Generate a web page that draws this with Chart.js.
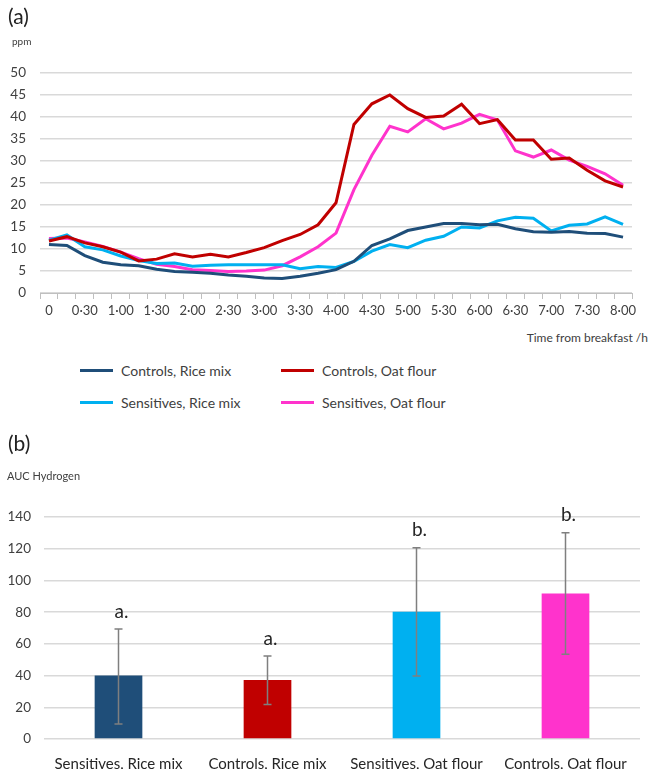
<!DOCTYPE html>
<html>
<head>
<meta charset="utf-8">
<title>Breath hydrogen</title>
<script src="https://cdn.jsdelivr.net/npm/chart.js"></script>
<style>
  body { margin: 0; background: #fff; font-family: Lato, "Open Sans", sans-serif; color: #404040; }
  #wrap { position: relative; width: 648px; height: 769px; overflow: hidden; }
  canvas { position: absolute; left: 0; }
  .txt { position: absolute; white-space: nowrap; }
  #legend { position: absolute; left: 80px; top: 361px; display: grid; grid-template-columns: 201px 201px; row-gap: 14px; }
  #legend div { display: flex; align-items: center; font-size: 14px; color: #404040; height: 18px; }
  #legend span { display: inline-block; width: 33px; height: 3px; margin-right: 8px; }
</style>
</head>
<body>
<div id="wrap">
  <canvas id="lineChart" width="648" height="330" style="top:0"></canvas>
  <canvas id="barChart" width="648" height="349" style="top:420px"></canvas>
  <div class="txt" style="left:8px;top:3px;font-size:21px;color:#222">(a)</div>
  <div class="txt" style="left:12px;top:35px;font-size:10px">ppm</div>
  <div class="txt" style="right:0;top:330px;font-size:12px">Time from breakfast /h</div>
  <div id="legend"></div>
  <div class="txt" style="left:8px;top:430px;font-size:21px;color:#222">(b)</div>
  <div class="txt" style="left:7px;top:469px;font-size:11px">AUC Hydrogen</div>
</div>
<script>
  // time points every 15 min, labels shown every 30 min
  const times = ["0", "0·15", "0·30", "0·45", "1·00", "1·15", "1·30", "1·45", "2·00", "2·15", "2·30",
    "2·45", "3·00", "3·15", "3·30", "3·45", "4·00", "4·15", "4·30", "4·45", "5·00", "5·15", "5·30",
    "5·45", "6·00", "6·15", "6·30", "6·45", "7·00", "7·15", "7·30", "7·45", "8·00"];

  const controlsRice = [11.0, 10.8, 8.5, 7.0, 6.4, 6.2, 5.4, 4.9, 4.7, 4.5, 4.1, 3.8, 3.4, 3.3, 3.8, 4.5, 5.3,
    7.2, 10.8, 12.3, 14.2, 15.0, 15.8, 15.8, 15.5, 15.6, 14.6, 13.9, 13.8, 14.0, 13.6, 13.5, 12.7];
  const controlsOat = [11.8, 12.8, 11.4, 10.5, 9.3, 7.3, 7.7, 8.9, 8.2, 8.8, 8.2, 9.2, 10.3, 11.9, 13.3, 15.5, 20.5,
    38.3, 43.0, 45.0, 41.9, 39.9, 40.2, 42.9, 38.5, 39.4, 34.8, 34.8, 30.4, 30.7, 27.9, 25.5, 24.1];
  const sensitivesRice = [12.0, 13.2, 10.5, 9.8, 8.4, 7.4, 6.7, 6.8, 6.1, 6.3, 6.4, 6.4, 6.4, 6.4, 5.5, 6.0, 5.8,
    7.2, 9.5, 11.0, 10.3, 12.0, 12.9, 15.0, 14.8, 16.4, 17.2, 17.0, 14.1, 15.4, 15.7, 17.3, 15.6];
  const sensitivesOat = [12.4, 12.5, 11.6, 10.6, 9.3, 7.8, 6.5, 6.0, 5.3, 5.1, 4.9, 5.0, 5.2, 6.2, 8.2, 10.5, 13.6,
    23.5, 31.3, 37.9, 36.6, 39.6, 37.3, 38.6, 40.6, 39.3, 32.3, 30.9, 32.5, 30.2, 28.8, 27.1, 24.5];

  const seriesNames = ["Controls, Rice mix", "Controls, Oat flour", "Sensitives, Rice mix", "Sensitives, Oat flour"];
  const seriesColors = ["#1f4e79", "#c00000", "#00b0f0", "#ff33cc"];

  // panel (b)
  const groups = ["Sensitives, Rice mix", "Controls, Rice mix", "Sensitives, Oat flour", "Controls, Oat flour"];
  const aucMean = [40.0, 37.2, 80.3, 91.8];
  const aucLow = [9.5, 21.8, 39.7, 53.4];
  const aucHigh = [69.3, 52.3, 120.6, 130.0];
  const letters = ["a.", "a.", "b.", "b."];
  const barColors = ["#1f4e79", "#c00000", "#00b0f0", "#ff33cc"];

  const textColor = "#404040";
  const gridColor = "#d9d9d9";

  const lineSeries = [controlsRice, controlsOat, sensitivesRice, sensitivesOat];

  new Chart(document.getElementById("lineChart"), {
    type: "line",
    data: {
      labels: times,
      datasets: lineSeries.map((d, i) => ({
        label: seriesNames[i],
        data: d,
        borderColor: seriesColors[i],
        backgroundColor: seriesColors[i],
        borderWidth: 3,
        pointRadius: 0,
        tension: 0,
        fill: false,
      })),
    },
    options: {
      responsive: false,
      animation: false,
      layout: { padding: { left: 0, right: 16, top: 73, bottom: 0 } },
      plugins: { legend: { display: false }, tooltip: { enabled: false } },
      scales: {
        x: {
          offset: true,
          grid: { offset: true, drawOnChartArea: false, drawTicks: true, tickLength: 6, color: "#bfbfbf" },
          border: { color: "#bfbfbf" },
          ticks: {
            autoSkip: false,
            maxRotation: 0,
            padding: 4,
            color: textColor,
            font: { family: "Lato", size: 13 },
            callback: (v, i) => (i % 2 === 0 ? times[i] : ""),
          },
          afterFit: (s) => { s.height = 37; },
        },
        y: {
          min: 0,
          max: 50,
          ticks: { stepSize: 5, padding: 14, color: textColor, font: { family: "Lato", size: 13.5 } },
          grid: { color: gridColor, lineWidth: 1.5, drawTicks: false },
          border: { display: false },
          afterFit: (s) => { s.width = 40; },
        },
      },
    },
  });

  // legend for panel (a)
  const legend = document.getElementById("legend");
  seriesNames.forEach((name, i) => {
    const item = document.createElement("div");
    const sw = document.createElement("span");
    sw.style.background = seriesColors[i];
    item.appendChild(sw);
    item.appendChild(document.createTextNode(name));
    legend.appendChild(item);
  });

  const errorBars = {
    id: "errorBars",
    afterDatasetsDraw(chart) {
      const { ctx, scales } = chart;
      const x = scales.x, y = scales.y;
      ctx.save();
      aucMean.forEach((v, i) => {
        const px = x.getPixelForValue(i);
        const top = y.getPixelForValue(aucHigh[i]);
        const bot = y.getPixelForValue(aucLow[i]);
        ctx.strokeStyle = "#7f7f7f";
        ctx.lineWidth = 1.5;
        ctx.beginPath();
        ctx.moveTo(px, top); ctx.lineTo(px, bot);
        ctx.moveTo(px - 4, top); ctx.lineTo(px + 4, top);
        ctx.moveTo(px - 4, bot); ctx.lineTo(px + 4, bot);
        ctx.stroke();
        ctx.fillStyle = "#262626";
        ctx.font = "19px Lato";
        ctx.textAlign = "center";
        ctx.textBaseline = "bottom";
        ctx.fillText(letters[i], px + 3, top - 8);
      });
      ctx.restore();
    },
  };

  new Chart(document.getElementById("barChart"), {
    type: "bar",
    data: {
      labels: groups,
      datasets: [{
        label: "AUC Hydrogen",
        data: aucMean,
        backgroundColor: barColors,
        categoryPercentage: 1,
        barPercentage: 0.32,
      }],
    },
    options: {
      responsive: false,
      animation: false,
      layout: { padding: { left: 0, right: 8, top: 97, bottom: 0 } },
      plugins: { legend: { display: false }, tooltip: { enabled: false } },
      scales: {
        x: {
          grid: { display: false },
          border: { display: false },
          ticks: { color: "#262626", padding: 8, maxRotation: 0, font: { family: "Lato", size: 15 } },
          afterFit: (s) => { s.height = 30; },
        },
        y: {
          min: 0,
          max: 140,
          ticks: { stepSize: 20, padding: 13, color: textColor, font: { family: "Lato", size: 13.5 } },
          grid: { color: gridColor, lineWidth: 1.5, drawTicks: false },
          border: { display: false },
          afterFit: (s) => { s.width = 44; },
        },
      },
    },
    plugins: [errorBars],
  });
</script>
</body>
</html>
